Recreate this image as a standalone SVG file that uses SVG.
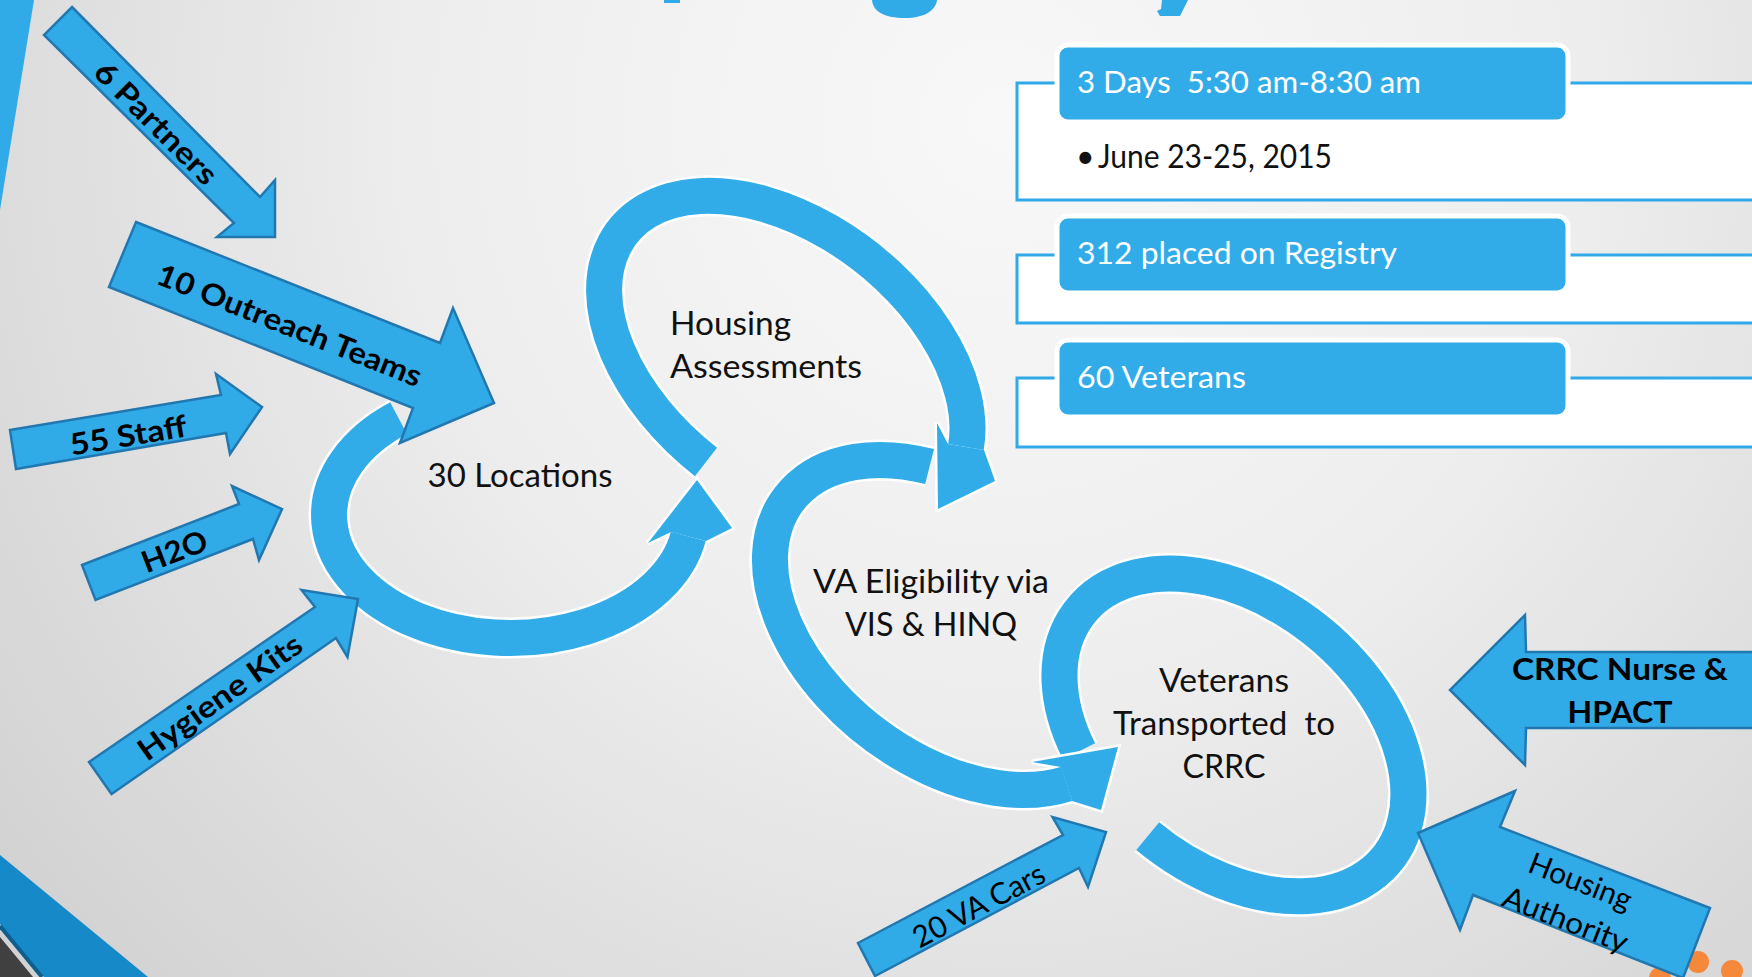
<svg xmlns="http://www.w3.org/2000/svg" width="1752" height="977" viewBox="0 0 1752 977">
<defs>
  <radialGradient id="bg" gradientUnits="userSpaceOnUse" cx="1000" cy="120" r="1250">
    <stop offset="0" stop-color="#f8f8f8"/>
    <stop offset="0.45" stop-color="#eeeeee"/>
    <stop offset="1" stop-color="#d2d2d2"/>
  </radialGradient>
</defs>
<style>
  .band{fill:none;stroke:#32ace9;stroke-width:36}
  .halo{fill:none;stroke:#ffffff;stroke-width:41}
  .head{fill:#32ace9}
  .headhalo{fill:#ffffff;stroke:#ffffff;stroke-width:5;stroke-linejoin:miter}
  .arrow{fill:#31aae8;stroke:#2178b0;stroke-width:2.5;stroke-linejoin:miter}
  .lbl{font-family:Lato,'Open Sans',sans-serif;font-size:32px;fill:#111111}
  .albl{font-family:Lato,'Open Sans',sans-serif;font-weight:bold;font-size:30px;fill:#000000}
  .rlbl{font-family:Lato,'Open Sans',sans-serif;font-size:30px;fill:#000000}
  .hdr{font-family:Lato,'Open Sans',sans-serif;font-size:31px;fill:#ffffff}
  .hbox{fill:#32ace9;stroke:#ffffff;stroke-width:5}
  .panel{fill:#ffffff;stroke:#2fa9e8;stroke-width:3}
  .deco{fill:#31aae8}
</style>

<g id="background">
  <rect x="0" y="0" width="1752" height="977" fill="url(#bg)"/>
  <polygon class="deco" points="0,0 34,0 0,210"/>
  <polygon fill="#1689c8" points="0,855 148,977 44,977 0,924"/>
  <line x1="0" y1="926" x2="42" y2="977" stroke="#0e5f8e" stroke-width="4"/>
  <polygon fill="#404040" points="0,937 33,977 0,977"/>
  <path class="deco" d="M872,0 L937,0 C936,10 925,18 905,18 C885,18 873,12 872,0 Z"/>
  <polygon class="deco" points="1162,0 1188,0 1180,16 1160,16 1157,11 1161,9"/>
  <rect class="deco" x="664" y="0" width="16" height="3"/>
  <circle cx="1660" cy="978" r="11" fill="#f5883a"/>
  <circle cx="1698" cy="962" r="11" fill="#f5883a"/>
  <circle cx="1732" cy="971" r="11" fill="#f5883a"/>
</g>

<g id="panel-days">
  <rect class="panel" x="1017" y="83" width="800" height="117"/>
  <rect class="hbox" x="1057" y="45" width="511" height="77" rx="11"/>
  <text class="hdr" x="1077" y="93" textLength="344" lengthAdjust="spacingAndGlyphs" xml:space="preserve">3 Days  5:30 am-8:30 am</text>
  <text class="lbl" x="1076" y="168" font-size="30">•</text>
  <text class="lbl" x="1098" y="168" font-size="30" textLength="234" lengthAdjust="spacingAndGlyphs">June 23-25, 2015</text>
</g>
<g id="panel-registry">
  <rect class="panel" x="1017" y="255" width="800" height="68"/>
  <rect class="hbox" x="1057" y="216" width="511" height="77" rx="11"/>
  <text class="hdr" x="1077" y="264" textLength="320" lengthAdjust="spacingAndGlyphs">312 placed on Registry</text>
</g>
<g id="panel-veterans">
  <rect class="panel" x="1017" y="378" width="800" height="69"/>
  <rect class="hbox" x="1057" y="340" width="511" height="77" rx="11"/>
  <text class="hdr" x="1077" y="388" textLength="169" lengthAdjust="spacingAndGlyphs">60 Veterans</text>
</g>

<g id="connectors">
  <g id="ring-transport">
    <path class="halo" d="M1079,751.4 A197,133 39 1 1 1147.7,836.2"/>
    <path class="band" d="M1079,751.4 A197,133 39 1 1 1147.7,836.2"/>
  </g>
  <g id="ring-locations">
    <path class="halo" d="M398.6,418.1 A181,123 0 1 0 688.3,536.4"/>
    <polygon class="headhalo" points="671,532 648,543 697,480 732,528 706,541"/>
    <path class="band" d="M398.6,418.1 A181,123 0 1 0 688.3,536.4"/>
    <polygon class="head" points="671,532 648,543 697,480 732,528 706,541"/>
  </g>
  <g id="ring-housing">
    <path class="halo" d="M706,462 A207,130 38 1 1 966,447"/>
    <polygon class="headhalo" points="948,444 937,423 938,509 995,481 984,450"/>
    <path class="band" d="M706,462 A207,130 38 1 1 966,447"/>
    <polygon class="head" points="948,444 937,423 938,509 995,481 984,450"/>
  </g>
  <g id="ring-eligibility">
    <path class="halo" d="M929.6,466.5 A206,134 38 1 0 1066.7,783.8"/>
    <polygon class="headhalo" points="1061,767 1032,762 1118,747 1101,810 1072,801"/>
    <path class="band" d="M929.6,466.5 A206,134 38 1 0 1066.7,783.8"/>
    <polygon class="head" points="1061,767 1032,762 1118,747 1101,810 1072,801"/>
  </g>
</g>

<g id="node-locations">
  <text class="lbl" x="520" y="487" text-anchor="middle" textLength="185" lengthAdjust="spacingAndGlyphs">30 Locations</text>
</g>
<g id="node-housing">
  <text class="lbl" x="670" y="335" textLength="121" lengthAdjust="spacingAndGlyphs">Housing</text>
  <text class="lbl" x="670" y="378" textLength="192" lengthAdjust="spacingAndGlyphs">Assessments</text>
</g>
<g id="node-eligibility">
  <text class="lbl" x="931" y="593" text-anchor="middle" textLength="236" lengthAdjust="spacingAndGlyphs">VA Eligibility via</text>
  <text class="lbl" x="931" y="636" text-anchor="middle" textLength="172" lengthAdjust="spacingAndGlyphs">VIS &amp; HINQ</text>
</g>
<g id="node-transport">
  <text class="lbl" x="1224" y="692" text-anchor="middle" textLength="130" lengthAdjust="spacingAndGlyphs">Veterans</text>
  <text class="lbl" x="1224" y="735" text-anchor="middle" textLength="222" lengthAdjust="spacingAndGlyphs" xml:space="preserve">Transported  to</text>
  <text class="lbl" x="1224" y="778" text-anchor="middle" textLength="83" lengthAdjust="spacingAndGlyphs">CRRC</text>
</g>

<g id="arrow-partners">
  <polygon class="arrow" points="72,7 260,197 275,180 275,237 217,237 234,223 44,35"/>
  <text class="albl" transform="translate(157,122) rotate(45)" text-anchor="middle" dominant-baseline="central" textLength="160" lengthAdjust="spacingAndGlyphs">6 Partners</text>
</g>
<g id="arrow-outreach">
  <polygon class="arrow" points="136,222 440,343 453,308 494,403 400,443 413,408 109,287"/>
  <text class="albl" font-size="32" transform="translate(290,324) rotate(21.7)" text-anchor="middle" dominant-baseline="central" textLength="282" lengthAdjust="spacingAndGlyphs">10 Outreach Teams</text>
</g>
<g id="arrow-staff">
  <polygon class="arrow" points="10,430 221,395 216,374 262,407 230,454 226,433 16,469"/>
  <text class="albl" font-size="34" transform="translate(128,434) rotate(-9.5)" text-anchor="middle" dominant-baseline="central" textLength="118" lengthAdjust="spacingAndGlyphs">55 Staff</text>
</g>
<g id="arrow-h2o">
  <polygon class="arrow" points="82,565 239,504 232,486 282,509 259,560 253,539 95.5,600"/>
  <text class="albl" font-size="32" transform="translate(174,550) rotate(-21)" text-anchor="middle" dominant-baseline="central" textLength="68" lengthAdjust="spacingAndGlyphs">H2O</text>
</g>
<g id="arrow-hygiene">
  <polygon class="arrow" points="89,762 315,607 301.5,590 358,599 347.5,657 336,638 111.5,794"/>
  <text class="albl" font-size="31" transform="translate(219,696) rotate(-35.5)" text-anchor="middle" dominant-baseline="central" textLength="194" lengthAdjust="spacingAndGlyphs">Hygiene Kits</text>
</g>
<g id="arrow-cars">
  <polygon class="arrow" points="858,943 1063,835 1052.5,817 1106,832 1088,887 1079,868 875,976"/>
  <text class="rlbl" transform="translate(978,904) rotate(-28)" text-anchor="middle" dominant-baseline="central" textLength="145" lengthAdjust="spacingAndGlyphs">20 VA Cars</text>
</g>
<g id="arrow-crrc">
  <polygon class="arrow" points="1760,652 1526,652 1525,615 1450,690 1525,765 1526,728 1760,728"/>
  <text class="albl" font-size="32" x="1620" y="680" text-anchor="middle" textLength="216" lengthAdjust="spacingAndGlyphs">CRRC Nurse &amp;</text>
  <text class="albl" font-size="32" x="1620" y="723" text-anchor="middle" textLength="105" lengthAdjust="spacingAndGlyphs">HPACT</text>
</g>
<g id="arrow-authority">
  <polygon class="arrow" points="1418,833 1515,791 1500,827 1710,908 1683,978 1473,895 1460,930"/>
  <text class="rlbl" transform="translate(1581,880) rotate(21.3)" text-anchor="middle" dominant-baseline="central" textLength="108" lengthAdjust="spacingAndGlyphs">Housing</text>
  <text class="rlbl" transform="translate(1566,918) rotate(21.3)" text-anchor="middle" dominant-baseline="central" textLength="132" lengthAdjust="spacingAndGlyphs">Authority</text>
</g>
</svg>
